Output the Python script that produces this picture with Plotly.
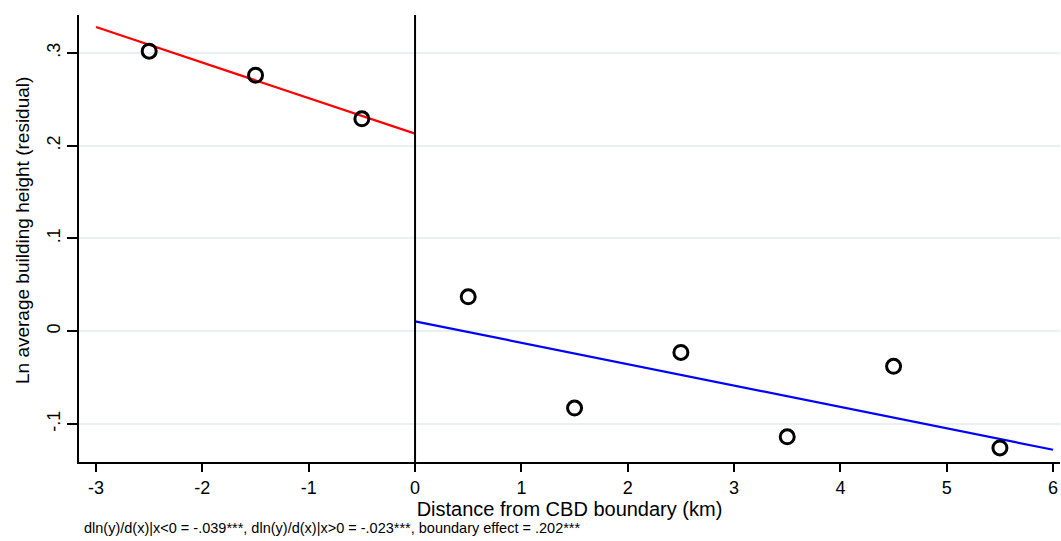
import plotly.graph_objects as go

bin_x = [-2.5, -1.5, -0.5, 0.5, 1.5, 2.5, 3.5, 4.5, 5.5]
bin_y = [0.302, 0.276, 0.229, 0.037, -0.083, -0.023, -0.114, -0.038, -0.126]
left_fit_x = [-3, 0]
left_fit_y = [0.328, 0.213]
right_fit_x = [0, 6]
right_fit_y = [0.0105, -0.128]
x_ticks = [-3, -2, -1, 0, 1, 2, 3, 4, 5, 6]
x_labels = ["-3", "-2", "-1", "0", "1", "2", "3", "4", "5", "6"]
y_ticks = [-0.1, 0, 0.1, 0.2, 0.3]
y_labels = ["-.1", "0", ".1", ".2", ".3"]
y_title = "Ln average building height (residual)"
x_title = "Distance from CBD boundary (km)"
note = "dln(y)/d(x)|x<0 = -.039***, dln(y)/d(x)|x>0 = -.023***, boundary effect = .202***"

fig = go.Figure()
fig.add_trace(go.Scatter(x=left_fit_x, y=left_fit_y, mode="lines",
                         line=dict(color="#ff0000", width=2.2), showlegend=False))
fig.add_trace(go.Scatter(x=right_fit_x, y=right_fit_y, mode="lines",
                         line=dict(color="#0000ff", width=2.2), showlegend=False))
fig.add_trace(go.Scatter(x=bin_x, y=bin_y, mode="markers",
                         marker=dict(symbol="circle-open", size=14, color="black",
                                     line=dict(width=3, color="black")),
                         showlegend=False))
fig.add_vline(x=0, line=dict(color="black", width=2))

fig.update_layout(
    width=1061, height=541,
    margin=dict(l=79, r=1, t=15, b=79, autoexpand=False),
    plot_bgcolor="white", paper_bgcolor="white",
    font=dict(family="Liberation Sans, Arial, sans-serif", size=17, color="black"),
    xaxis=dict(range=[-3.16, 6.065], tickvals=x_ticks, ticktext=x_labels,
               ticks="outside", ticklen=8, tickwidth=1.5, tickcolor="black",
               showline=True, linecolor="black", linewidth=2, showgrid=False,
               zeroline=False, automargin=False,
               title=dict(text=x_title, standoff=0, font=dict(size=20)),
               tickfont=dict(size=18)),
    yaxis=dict(range=[-0.1412, 0.341], tickvals=y_ticks, ticktext=y_labels,
               ticks="outside", ticklen=10, tickwidth=1.5, tickcolor="black",
               showline=True, linecolor="black", linewidth=2,
               showgrid=True, gridcolor="#e8f0f2", gridwidth=2, zeroline=False,
               tickangle=-90, tickfont=dict(size=18), automargin=False),
    annotations=[
        dict(text=note, xref="paper", yref="paper",
             x=(82 - 79) / 981, y=-(527 - 461) / 447, xanchor="left",
             yanchor="middle", showarrow=False, font=dict(size=14.5)),
        dict(text=y_title, xref="paper", yref="paper", textangle=-90,
             x=(22 - 79) / 981, y=(462 - 231) / 447, xanchor="center",
             yanchor="middle", showarrow=False, font=dict(size=19)),
    ],
)
fig.write_html("out.html", config={"displayModeBar": False},
               post_script="document.body.style.margin='0';document.body.style.overflow='hidden';")
